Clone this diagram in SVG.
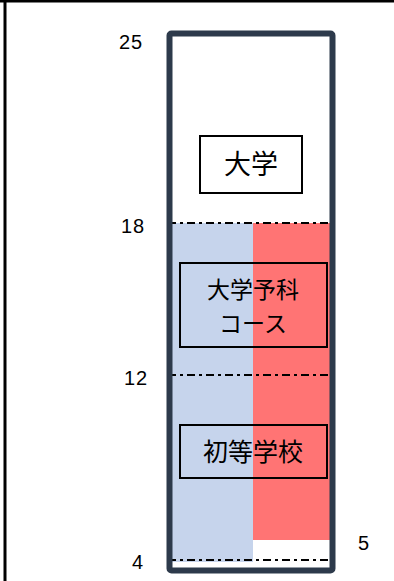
<svg xmlns="http://www.w3.org/2000/svg" width="394" height="581" viewBox="0 0 394 581">
<style>
.num{font-family:"Liberation Sans",Arial,sans-serif;font-size:20px;letter-spacing:1px;fill:#000;text-anchor:middle}
.lbl{font-family:"Noto Sans CJK JP","Noto Sans CJK SC",sans-serif;fill:#000;text-anchor:middle}
.box{fill:none;stroke:#000;stroke-width:2}
.dash{stroke:#000;stroke-width:2;stroke-dasharray:8 4 3 4}
</style>
<rect width="394" height="581" fill="#fff"/>
<line x1="0" y1="1" x2="394" y2="1" stroke="#000" stroke-width="3"/>
<line x1="5" y1="0" x2="5" y2="581" stroke="#000" stroke-width="3"/>
<g id="fills">
<rect x="172" y="223" width="81" height="339" fill="#c6d4ec"/>
<rect x="253" y="223" width="77" height="317" fill="#ff7474"/>
</g>
<g id="connectors">
<line class="dash" x1="168" y1="223" x2="331" y2="223"/>
<line class="dash" x1="168" y1="375" x2="331" y2="375"/>
<line class="dash" x1="168" y1="560" x2="331" y2="560"/>
</g>
<g id="frame">
<rect x="169.5" y="33.5" width="163" height="537" rx="2" fill="none" stroke="#2d3a4b" stroke-width="6"/>
</g>
<g id="n-daigaku">
<rect class="box" x="200" y="136" width="102" height="57" fill="#fff"/>
<text class="lbl" x="251" y="174" font-size="27">大学</text>
</g>
<g id="n-yoka">
<rect class="box" x="180" y="263" width="147" height="84"/>
<text class="lbl" x="253" y="298" font-size="23">大学予科</text>
<text class="lbl" x="253" y="332" font-size="23">コース</text>
</g>
<g id="n-shoto">
<rect class="box" x="180" y="425" width="147" height="53"/>
<text class="lbl" x="253" y="461" font-size="25">初等学校</text>
</g>
<g id="labels">
<text class="num" x="131" y="49">25</text>
<text class="num" x="133" y="233">18</text>
<text class="num" x="136" y="385">12</text>
<text class="num" x="138" y="569">4</text>
<text class="num" x="364" y="550">5</text>
</g>
</svg>
